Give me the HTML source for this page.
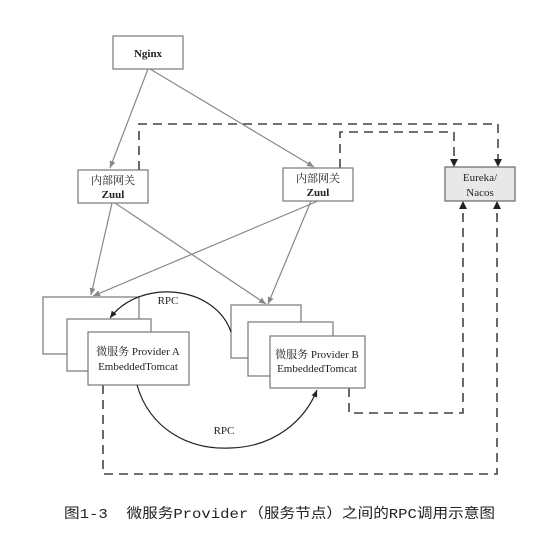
<!DOCTYPE html>
<html><head><meta charset="utf-8"><style>
html,body{margin:0;padding:0;background:#fff;width:541px;height:537px;overflow:hidden}
svg{display:block}
.b{fill:#fff;stroke:#777;stroke-width:1.2}
.t{font-family:"Liberation Serif","Noto Serif CJK SC",serif;font-size:11px;fill:#222;text-anchor:middle}
.g{stroke:#888;stroke-width:1.2;fill:none}
.d{stroke:#444;stroke-width:1.6;fill:none;stroke-dasharray:9,6}
.k{stroke:#222;stroke-width:1.2;fill:none}
</style></head><body>
<svg width="541" height="537" viewBox="0 0 541 537" xmlns="http://www.w3.org/2000/svg">
<defs>
<marker id="ag" markerWidth="8" markerHeight="8" refX="7" refY="4" orient="auto" markerUnits="userSpaceOnUse"><path d="M0,1 L7,4 L0,7 z" fill="#888"/></marker>
<marker id="ak" markerWidth="8" markerHeight="8" refX="7" refY="4" orient="auto" markerUnits="userSpaceOnUse"><path d="M0,1 L7,4 L0,7 z" fill="#222"/></marker>
</defs>
<path class="d" d="M139,170 V124 H498 V165"/>
<path class="d" d="M340,168 V132 H454 V165"/>
<path class="d" d="M349,388 V413 H463 V203"/>
<path class="d" d="M103,385 V474 H497 V203"/>
<path d="M450,159 L454,167 L458,159z M494,159 L498,167 L502,159z M459,209 L463,201 L467,209z M493,209 L497,201 L501,209z" fill="#222"/>
<rect class="b" x="113" y="36" width="70" height="33"/>
<text class="t" x="148" y="57" font-weight="bold">Nginx</text>
<rect class="b" x="78" y="170" width="70" height="33"/>
<text class="t" x="113" y="184">内部网关</text><text class="t" x="113" y="198" font-weight="bold">Zuul</text>
<rect class="b" x="283" y="168" width="70" height="33"/>
<text class="t" x="318" y="182">内部网关</text><text class="t" x="318" y="196" font-weight="bold">Zuul</text>
<rect x="445" y="167" width="70" height="34" fill="#e8e8e8" stroke="#666" stroke-width="1.2"/>
<text class="t" x="480" y="181">Eureka/</text><text class="t" x="480" y="196">Nacos</text>
<line class="g" x1="148" y1="69" x2="110" y2="168" marker-end="url(#ag)"/>
<line class="g" x1="150" y1="69" x2="314" y2="167" marker-end="url(#ag)"/>
<line class="g" x1="112" y1="203" x2="91" y2="295" marker-end="url(#ag)"/>
<line class="g" x1="115" y1="203" x2="266" y2="304" marker-end="url(#ag)"/>
<line class="g" x1="318" y1="201" x2="93" y2="296" marker-end="url(#ag)"/>
<line class="g" x1="311" y1="201" x2="268" y2="304" marker-end="url(#ag)"/>
<rect class="b" x="43" y="297" width="96" height="57"/>
<rect class="b" x="67" y="319" width="84" height="52"/>
<rect class="b" x="88" y="332" width="101" height="53"/>
<text class="t" x="138" y="355">微服务 Provider A</text><text class="t" x="138" y="370">EmbeddedTomcat</text>
<rect class="b" x="231" y="305" width="70" height="53"/>
<rect class="b" x="248" y="322" width="85" height="54"/>
<rect class="b" x="270" y="336" width="95" height="52"/>
<text class="t" x="317" y="358">微服务 Provider B</text><text class="t" x="317" y="372">EmbeddedTomcat</text>
<path class="k" d="M231,332 C215,285 140,278 110,318" marker-end="url(#ak)"/>
<text class="t" x="168" y="304">RPC</text>
<path class="k" d="M137,385 C150,430 190,450 230,448 C275,447 305,420 317,390" marker-end="url(#ak)"/>
<text class="t" x="224" y="434">RPC</text>
<text x="64" y="518" xml:space="preserve" font-family="'Liberation Mono','Noto Sans CJK SC',monospace" font-size="14" fill="#222" textLength="431" lengthAdjust="spacingAndGlyphs">图1-3  微服务Provider（服务节点）之间的RPC调用示意图</text>
</svg>
</body></html>
